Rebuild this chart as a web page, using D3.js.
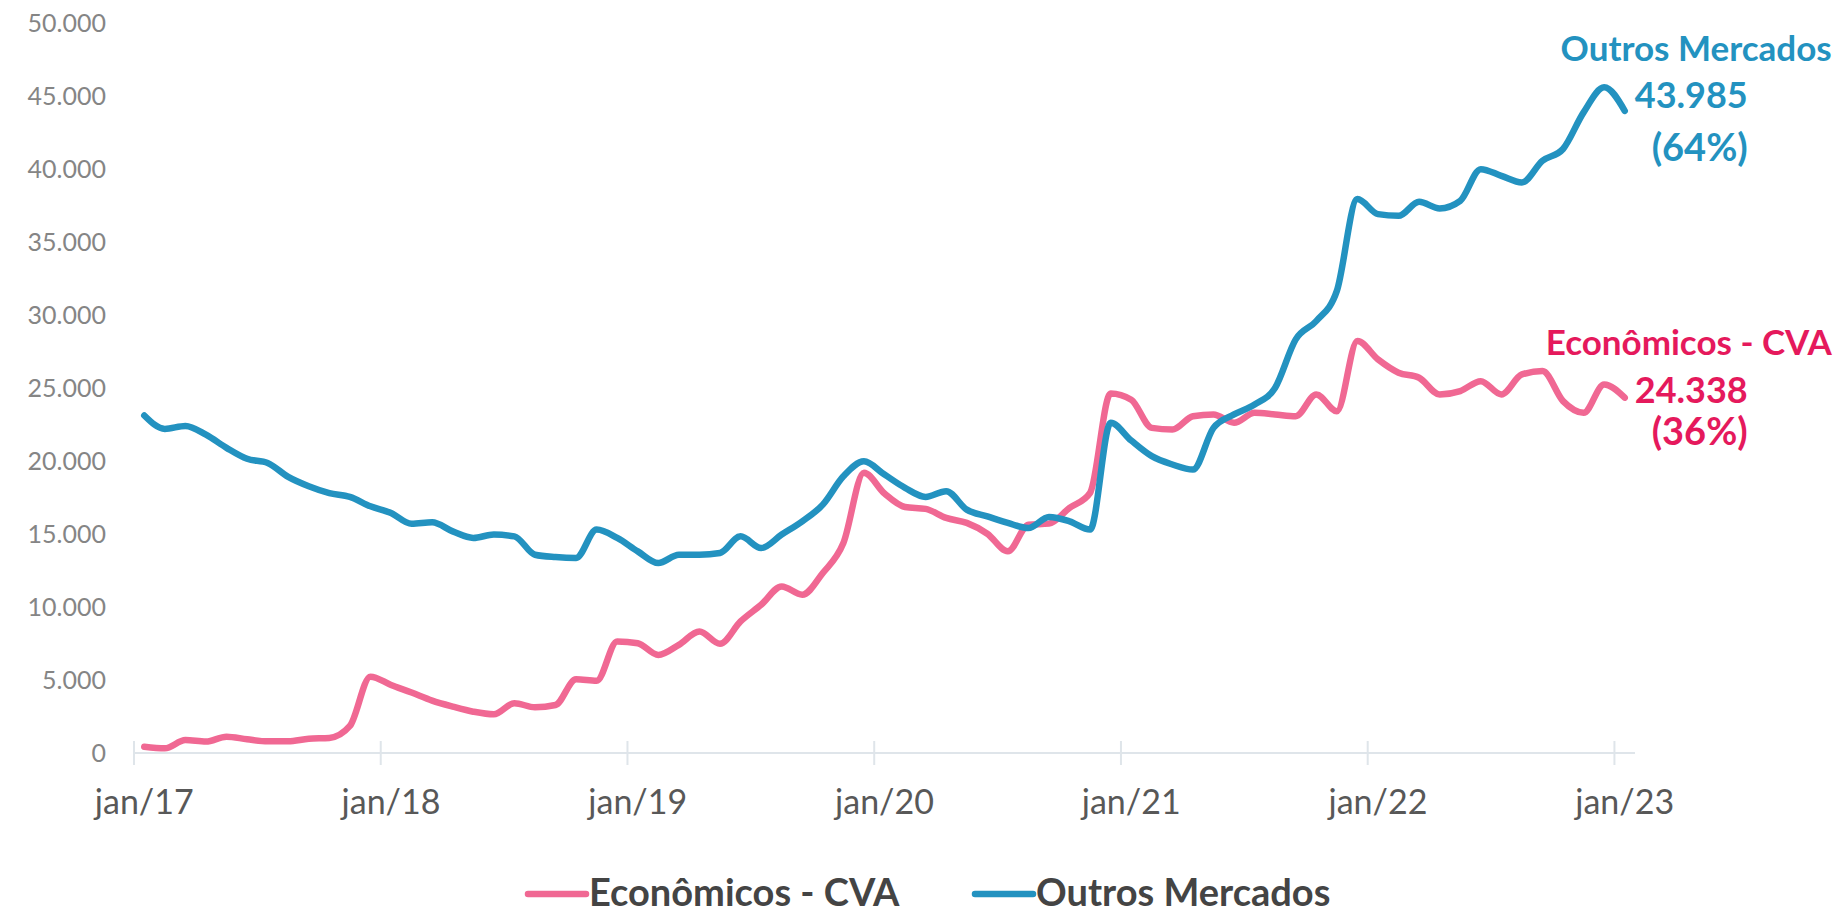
<!DOCTYPE html>
<html>
<head>
<meta charset="utf-8">
<script src="https://cdn.jsdelivr.net/npm/d3@7"></script>
<style>
  html, body { margin: 0; padding: 0; background: #fff; }
  svg { display: block; font-family: "Source Sans Pro", Lato, "Open Sans", sans-serif; }
  .y-label { fill: #858585; font-size: 25px; }
  .x-label { fill: #585858; font-size: 34px; }
  .axis-line { stroke: #dfe5ea; stroke-width: 2; }
  .line { fill: none; stroke-width: 6.5; stroke-linecap: round; stroke-linejoin: round; }
  .end-label { font-weight: 700; }
  .legend-text { fill: #444; font-weight: 700; font-size: 38px; }
</style>
</head>
<body>
<div class="chart"></div>
<script>
const monthNames = ["jan","fev","mar","abr","mai","jun","jul","ago","set","out","nov","dez"];
const categories = d3.range(73).map(i => monthNames[i % 12] + "/" + (17 + Math.floor(i / 12)));
const tickLabels = ["jan/17","jan/18","jan/19","jan/20","jan/21","jan/22","jan/23"];
const yTicks = [0, 5000, 10000, 15000, 20000, 25000, 30000, 35000, 40000, 45000, 50000];

const seriesNames = ["Econômicos - CVA", "Outros Mercados"];
const seriesColors = ["#f06893", "#2392c0"];
const labelColors = ["#e5195c", "#2392c0"];

const economicos = [
  430, 320, 890, 780, 1120, 940, 800, 800, 980, 1030,
  1850, 5230, 4660, 4140, 3590, 3180, 2830, 2650, 3410, 3130,
  3290, 5050, 4950, 7640, 7520, 6720, 7410, 8320, 7480, 9010,
  10150, 11410, 10840, 12330, 14380, 19190, 17770, 16850, 16720, 16100,
  15760, 15020, 13810, 15640, 15710, 16790, 17820, 24630, 24200, 22270,
  22160, 23070, 23190, 22620, 23300, 23190, 23070, 24560, 23410, 28220,
  26960, 26050, 25700, 24560, 24790, 25470, 24560, 25930, 26160, 24100,
  23300, 25240, 24338
];

const outros = [
  23120, 22200, 22400, 21800, 20900, 20150, 19870, 18910, 18270, 17800,
  17540, 16900, 16440, 15700, 15800, 15180, 14730, 14960, 14840, 13580,
  13420, 13360, 15300, 14730, 13810, 13010, 13580, 13580, 13700, 14840,
  14040, 14960, 15870, 17010, 18950, 19980, 19070, 18160, 17540, 17930,
  16670, 16210, 15760, 15410, 16170, 15870, 15300, 22620, 21400, 20330,
  19760, 19410, 22270, 23190, 23870, 25020, 28330, 29590, 31650, 37940,
  36910, 36790, 37750, 37300, 37820, 39990, 39530, 39080, 40560, 41370,
  43880, 45600, 43985
];

const width = 1843, height = 915;
const margin = {left: 134, right: 208, top: 23, bottom: 162};

const ptBR = d3.formatLocale({decimal: ",", thousands: ".", grouping: [3], currency: ["R$", ""]});
const fmt = ptBR.format(",.0f");

const x = d3.scaleBand()
    .domain(categories)
    .range([margin.left, width - margin.right]);

const y = d3.scaleLinear()
    .domain([0, 50000])
    .range([height - margin.bottom, margin.top]);

const xc = d => x(d) + x.bandwidth() / 2;

const svg = d3.select(".chart").append("svg")
    .attr("width", width)
    .attr("height", height);

// y labels (no grid lines)
svg.append("g").selectAll("text")
    .data(yTicks)
  .enter().append("text")
    .attr("class", "y-label")
    .attr("x", 106)
    .attr("y", d => y(d))
    .attr("dy", "0.35em")
    .attr("text-anchor", "end")
    .text(d => fmt(d));

// x axis
const xAxis = svg.append("g");
xAxis.append("line")
    .attr("class", "axis-line")
    .attr("x1", x.range()[0])
    .attr("x2", x.range()[1])
    .attr("y1", y(0))
    .attr("y2", y(0));

xAxis.selectAll("line.tick")
    .data(tickLabels)
  .enter().append("line")
    .attr("class", "axis-line tick")
    .attr("x1", d => x(d))
    .attr("x2", d => x(d))
    .attr("y1", y(0) - 12)
    .attr("y2", y(0) + 12);

xAxis.selectAll("text")
    .data(tickLabels)
  .enter().append("text")
    .attr("class", "x-label")
    .attr("x", d => xc(d))
    .attr("y", 814)
    .attr("text-anchor", "middle")
    .text(d => d);

const line = d3.line()
    .x((d, i) => xc(categories[i]))
    .y(d => y(d))
    .curve(d3.curveMonotoneX);

const series = [economicos, outros];

svg.selectAll("path.line")
    .data(series)
  .enter().append("path")
    .attr("class", "line")
    .attr("stroke", (d, i) => seriesColors[i])
    .attr("d", line);

// end labels
const total = economicos[economicos.length - 1] + outros[outros.length - 1];
const endLabels = [
  {offsets: [-43, 5, 47]},
  {offsets: [-50, -3, 50]}
];

series.forEach((s, i) => {
  const last = s[s.length - 1];
  const lx = xc(categories[s.length - 1]);
  const ly = y(last);
  const g = svg.append("g")
      .attr("class", "end-label")
      .attr("fill", labelColors[i]);
  g.append("text")
      .attr("x", lx + 207)
      .attr("y", ly + endLabels[i].offsets[0])
      .attr("text-anchor", "end")
      .style("font-size", "35px")
      .text(seriesNames[i]);
  g.append("text")
      .attr("x", lx + 123)
      .attr("y", ly + endLabels[i].offsets[1])
      .attr("text-anchor", "end")
      .style("font-size", "36px")
      .text(fmt(last));
  g.append("text")
      .attr("x", lx + 123)
      .attr("y", ly + endLabels[i].offsets[2])
      .attr("text-anchor", "end")
      .style("font-size", "38px")
      .text("(" + Math.round(last / total * 100) + "%)");
});

// legend
const legendX = [528, 975];
const legend = svg.append("g").selectAll("g")
    .data(seriesNames)
  .enter().append("g")
    .attr("transform", (d, i) => "translate(" + [legendX[i], 894] + ")");

legend.append("line")
    .attr("x1", 0)
    .attr("x2", 58)
    .attr("stroke", (d, i) => seriesColors[i])
    .attr("stroke-width", 6.5)
    .attr("stroke-linecap", "round");

legend.append("text")
    .attr("class", "legend-text")
    .attr("x", 61)
    .attr("y", 12)
    .text(d => d);
</script>
</body>
</html>
